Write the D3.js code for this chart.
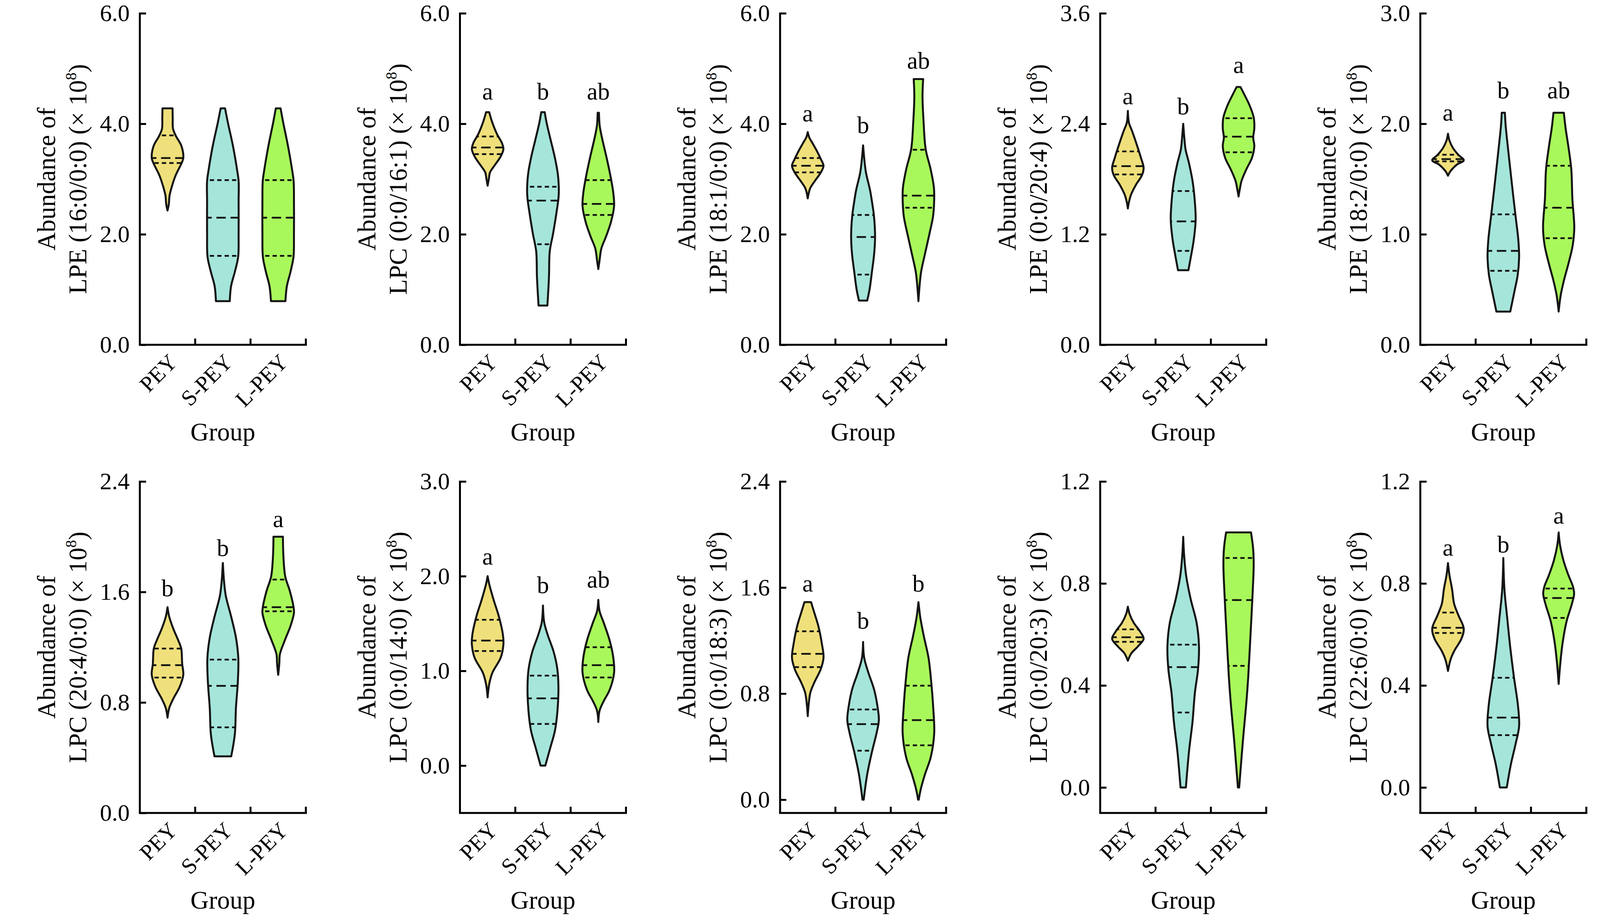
<!DOCTYPE html>
<html><head><meta charset="utf-8">
<script src="https://cdn.jsdelivr.net/npm/d3@7"></script>
<style>
body{margin:0;background:#fff}
svg{display:block}
text{font-family:"Liberation Serif","Times New Roman",serif;fill:#000}
</style>
</head><body>
<svg id="chart" width="4157" height="2351"></svg>
<script>
// ---------------- DATA ----------------
const groups = ["PEY", "S-PEY", "L-PEY"];
const groupColors = ["#EFE07B", "#A5E5DA", "#A9F85B"];

const lipidNames = [
  "LPE (16:0/0:0)", "LPC (0:0/16:1)", "LPE (18:1/0:0)", "LPE (0:0/20:4)", "LPE (18:2/0:0)",
  "LPC (20:4/0:0)", "LPC (0:0/14:0)", "LPC (0:0/18:3)", "LPC (0:0/20:3)", "LPC (22:6/0:0)"
];

const yDomains = [[0, 6], [0, 6], [0, 6], [0, 3.6], [0, 3],
                  [0, 2.4], [-0.5, 3], [-0.1, 2.4], [-0.1, 1.2], [-0.1, 1.2]];

const yTickValues = [
  [0, 2, 4, 6], [0, 2, 4, 6], [0, 2, 4, 6], [0, 1.2, 2.4, 3.6], [0, 1, 2, 3],
  [0, 0.8, 1.6, 2.4], [0, 1, 2, 3], [0, 0.8, 1.6, 2.4], [0, 0.4, 0.8, 1.2], [0, 0.4, 0.8, 1.2]
];

// [q1, median, q3] per group
const quartiles = [
  [[3.29, 3.38, 3.79], [1.61, 2.30, 2.98], [1.61, 2.30, 2.98]],
  [[3.45, 3.57, 3.77], [1.82, 2.61, 2.86], [2.35, 2.55, 2.98]],
  [[3.12, 3.24, 3.38], [1.27, 1.95, 2.35], [2.48, 2.70, 3.53]],
  [[1.85, 1.94, 2.10], [1.02, 1.34, 1.67], [2.09, 2.26, 2.46]],
  [[1.66, 1.68, 1.72], [0.67, 0.85, 1.18], [0.965, 1.24, 1.62]],
  [[0.98, 1.07, 1.19], [0.62, 0.92, 1.11], [1.46, 1.49, 1.69]],
  [[1.21, 1.32, 1.54], [0.44, 0.71, 0.95], [0.93, 1.06, 1.25]],
  [[1.00, 1.10, 1.27], [0.37, 0.57, 0.68], [0.41, 0.60, 0.86]],
  [[0.571, 0.589, 0.62], [0.294, 0.472, 0.56], [0.477, 0.735, 0.90]],
  [[0.606, 0.626, 0.686], [0.205, 0.274, 0.43], [0.665, 0.743, 0.78]]
];

const sigLetters = [
  ["", "", ""], ["a", "b", "ab"], ["a", "b", "ab"], ["a", "b", "a"], ["a", "b", "ab"],
  ["b", "b", "a"], ["a", "b", "ab"], ["a", "b", "b"], ["", "", ""], ["a", "b", "a"]
];
const sigLetterY = [
  [0, 0, 0], [4.44, 4.44, 4.44], [4.04, 3.83, 5.0], [2.61, 2.50, 2.95], [2.03, 2.23, 2.23],
  [1.57, 1.86, 2.07], [2.12, 1.82, 1.88], [1.57, 1.29, 1.57], [0, 0, 0], [0.909, 0.922, 1.034]
];

// violin profiles: [value, relative half-width]
const violin1 = [
  [[2.43,0],[2.54,.08],[2.7,.13],[2.85,.26],[3.07,.52],[3.28,.88],[3.38,1.0],[3.6,.88],[3.78,.53],[3.91,.35],[4.1,.33],[4.28,.32]],
  [[0.79,.44],[1.06,.52],[1.32,.76],[1.59,.97],[2.0,1.0],[2.6,1.0],[2.96,1.0],[3.17,.9],[3.6,.64],[4.02,.32],[4.28,.14]],
  [[0.79,.46],[1.06,.55],[1.32,.78],[1.59,.97],[2.0,1.0],[2.6,1.0],[2.96,.98],[3.17,.88],[3.6,.62],[4.02,.32],[4.28,.15]]
];
const violin2 = [
  [[2.88,0],[3.01,.08],[3.12,.15],[3.25,.45],[3.41,.83],[3.54,1.0],[3.65,.91],[3.81,.6],[4.02,.3],[4.21,.1]],
  [[0.71,.28],[1.22,.38],[1.69,.43],[2.01,.64],[2.38,.85],[2.72,1.0],[3.07,.95],[3.38,.76],[3.75,.45],[4.02,.23],[4.21,.11]],
  [[1.37,0],[1.53,.08],[1.74,.19],[1.96,.49],[2.22,.8],[2.51,1.0],[2.75,.95],[3.07,.76],[3.38,.53],[3.75,.23],[3.96,.09],[4.2,.04]]
];
const violin3 = [
  [[2.65,0],[2.83,.15],[2.96,.44],[3.12,.83],[3.24,1.0],[3.36,.83],[3.49,.61],[3.65,.3],[3.75,.1],[3.85,0]],
  [[0.8,.26],[1.0,.41],[1.32,.56],[1.64,.7],[1.96,.76],[2.33,.69],[2.54,.59],[2.8,.44],[3.12,.18],[3.38,.07],[3.61,0]],
  [[0.79,0],[1.06,.07],[1.32,.17],[1.64,.41],[2.01,.7],[2.33,.93],[2.64,1.0],[2.85,.98],[3.17,.78],[3.54,.46],[4.02,.33],[4.49,.26],[4.81,.3]]
];
const violin4 = [
  [[1.48,0],[1.55,.07],[1.63,.2],[1.74,.52],[1.84,.89],[1.92,1.0],[2.03,.83],[2.16,.59],[2.32,.27],[2.41,.07],[2.54,0]],
  [[0.81,.33],[0.95,.48],[1.14,.67],[1.36,.79],[1.59,.72],[1.78,.59],[1.97,.37],[2.12,.15],[2.25,.07],[2.4,0]],
  [[1.61,0],[1.68,.07],[1.78,.19],[1.9,.48],[2.03,.85],[2.16,1.0],[2.25,.93],[2.35,1.0],[2.47,.96],[2.6,.7],[2.73,.33],[2.8,.12]]
];
const violin5 = [
  [[1.53,0],[1.57,.15],[1.63,.56],[1.67,1.0],[1.72,.65],[1.78,.32],[1.85,.09],[1.91,0]],
  [[0.3,.44],[0.48,.7],[0.63,.91],[0.79,1.0],[0.95,.95],[1.16,.78],[1.37,.61],[1.59,.44],[1.8,.28],[1.98,.15],[2.1,.1]],
  [[0.3,0],[0.45,.13],[0.58,.33],[0.74,.63],[0.9,.89],[1.06,.99],[1.32,.87],[1.59,.8],[1.8,.61],[1.96,.44],[2.1,.33]]
];
const violin6 = [
  [[0.69,0],[0.76,.11],[0.83,.38],[0.91,.76],[1.0,1.0],[1.08,.93],[1.19,.87],[1.25,.68],[1.33,.38],[1.42,.11],[1.49,0]],
  [[0.41,.53],[0.57,.76],[0.76,.83],[0.95,.95],[1.12,.98],[1.27,.83],[1.42,.53],[1.57,.19],[1.67,.08],[1.81,0]],
  [[1.0,0],[1.08,.07],[1.15,.11],[1.25,.42],[1.36,.8],[1.45,1.0],[1.5,.96],[1.61,.73],[1.71,.45],[1.86,.33],[2.0,.3]]
];
const violin7 = [
  [[0.72,0],[0.86,.1],[0.98,.3],[1.14,.83],[1.28,1.0],[1.38,.97],[1.57,.72],[1.75,.38],[1.91,.11],[2.0,0]],
  [[0.0,.15],[0.18,.45],[0.37,.76],[0.58,.92],[0.83,.98],[1.02,.91],[1.2,.68],[1.38,.3],[1.51,.08],[1.69,0]],
  [[0.46,0],[0.58,.08],[0.68,.34],[0.8,.72],[0.98,1.0],[1.14,.95],[1.32,.72],[1.51,.34],[1.63,.08],[1.75,0]]
];
const violin8 = [
  [[0.63,0],[0.72,.06],[0.81,.17],[0.89,.44],[0.98,.81],[1.07,1.0],[1.18,.89],[1.31,.67],[1.42,.39],[1.49,.21]],
  [[0.0,.04],[0.19,.26],[0.36,.56],[0.5,.85],[0.6,1.0],[0.69,.93],[0.83,.7],[0.96,.33],[1.07,.07],[1.19,0]],
  [[0.0,.02],[0.08,.15],[0.19,.41],[0.32,.78],[0.5,1.0],[0.69,.94],[0.89,.81],[1.07,.64],[1.24,.33],[1.38,.11],[1.49,0]]
];
const violin9 = [
  [[0.497,0],[0.526,.22],[0.554,.65],[0.583,1.0],[0.611,.78],[0.646,.37],[0.68,.11],[0.709,0]],
  [[0.0,.17],[0.143,.37],[0.257,.59],[0.371,.74],[0.463,.94],[0.554,1.0],[0.646,.85],[0.737,.48],[0.829,.19],[0.909,.06],[0.983,0]],
  [[0.0,.04],[0.086,.15],[0.2,.3],[0.314,.47],[0.429,.61],[0.6,.76],[0.771,.9],[0.874,.96],[0.94,.92],[1.0,.79]]
];
const violin10 = [
  [[0.457,0],[0.503,.17],[0.537,.41],[0.583,.85],[0.623,1.0],[0.674,.67],[0.72,.39],[0.777,.26],[0.834,.09],[0.88,0]],
  [[0.0,.22],[0.091,.48],[0.171,.78],[0.24,1.0],[0.32,.93],[0.434,.67],[0.549,.44],[0.663,.25],[0.777,.07],[0.9,0]],
  [[0.406,0],[0.491,.11],[0.571,.26],[0.651,.5],[0.72,.84],[0.76,.98],[0.789,.9],[0.834,.61],[0.891,.3],[0.949,.09],[1.0,0]]
];
const violinProfiles = [violin1, violin2, violin3, violin4, violin5, violin6, violin7, violin8, violin9, violin10];

// ---------------- LAYOUT ----------------
const svg = d3.select("#chart");
svg.append("rect").attr("width", 4157).attr("height", 2351).attr("fill", "#fff");

const colLeft = 358, colStep = 819.5;
const rowTop = [34, 1233];
const plotW = 425, plotH = 849;
const tickFont = 61, titleFont = 65, letterFont = 62, xLabFont = 57;

violinProfiles.forEach((prof, i) => {
  const row = Math.floor(i / 5), col = i % 5;
  const left = colLeft + col * colStep;
  const top = rowTop[row];
  const g = svg.append("g").attr("transform", `translate(${left},${top})`);

  const x = d3.scaleBand().domain(groups).range([0, plotW]);
  const y = d3.scaleLinear().domain(yDomains[i]).range([plotH, 0]);
  const w = d3.scaleLinear().domain([0, 1]).range([0, x.bandwidth() * 0.285]);

  // violins
  groups.forEach((grp, j) => {
    const cx = x(grp) + x.bandwidth() / 2;
    const pts = prof[j].slice().sort((a, b) => a[0] - b[0]);
    const area = d3.area()
      .curve(d3.curveCatmullRom.alpha(0.5))
      .y(d => y(d[0]))
      .x0(d => cx - w(d[1]))
      .x1(d => cx + w(d[1]));
    const dPath = area(pts);
    const clipId = `clip-${i}-${j}`;
    g.append("clipPath").attr("id", clipId).append("path").attr("d", dPath);
    g.append("path").attr("d", dPath)
      .attr("fill", groupColors[j])
      .attr("stroke", "#141414").attr("stroke-width", 5)
      .attr("stroke-linejoin", "round");
    const q = quartiles[i][j];
    const lg = g.append("g").attr("clip-path", `url(#${clipId})`);
    q.forEach((v, k) => {
      lg.append("line")
        .attr("x1", cx - w(1.3)).attr("x2", cx + w(1.3))
        .attr("y1", y(v)).attr("y2", y(v))
        .attr("stroke", "#111").attr("stroke-width", 4.5)
        .attr("stroke-dasharray", k === 1 ? "24,12" : "11,8");
    });
    // significance letter
    if (sigLetters[i][j]) {
      g.append("text").attr("x", cx).attr("y", y(sigLetterY[i][j]))
        .attr("text-anchor", "middle").attr("font-size", letterFont)
        .text(sigLetters[i][j]);
    }
  });

  // y axis
  const yAxis = d3.axisLeft(y)
    .tickValues(yTickValues[i])
    .tickFormat(d3.format(".1f"))
    .tickSizeInner(-16).tickSizeOuter(0).tickPadding(26);
  const ya = g.append("g").call(yAxis);
  ya.select(".domain").attr("stroke", "#000").attr("stroke-width", 5)
    .attr("d", `M0,${y.range()[1] - 2}V${plotH}`);
  ya.selectAll(".tick line").attr("stroke", "#000").attr("stroke-width", 5);
  ya.selectAll(".tick text").attr("font-size", tickFont)
    .attr("font-family", "Liberation Serif, Times New Roman, serif").attr("fill", "#000");

  // x axis
  g.append("line").attr("x1", -2.5).attr("x2", plotW + 2.5)
    .attr("y1", plotH).attr("y2", plotH)
    .attr("stroke", "#000").attr("stroke-width", 5);
  groups.forEach(grp => {
    const xe = x(grp) + x.bandwidth();
    g.append("line").attr("x1", xe).attr("x2", xe)
      .attr("y1", plotH).attr("y2", plotH - 16)
      .attr("stroke", "#000").attr("stroke-width", 5);
    const cx = x(grp) + x.bandwidth() / 2;
    g.append("text")
      .attr("transform", `translate(${cx + 28},${plotH + 48}) rotate(-45)`)
      .attr("text-anchor", "end").attr("font-size", xLabFont)
      .text(grp);
  });
  g.append("text").attr("x", plotW / 2).attr("y", plotH + 245)
    .attr("text-anchor", "middle").attr("font-size", titleFont).text("Group");

  // y title
  g.append("text")
    .attr("transform", `translate(-217,${plotH / 2}) rotate(-90)`)
    .attr("text-anchor", "middle").attr("font-size", titleFont)
    .text("Abundance of");
  const t2 = g.append("text")
    .attr("transform", `translate(-137,${plotH / 2}) rotate(-90)`)
    .attr("text-anchor", "middle").attr("font-size", titleFont);
  t2.append("tspan").text(lipidNames[i] + " (\u00D7 10");
  t2.append("tspan").attr("font-size", titleFont * 0.6).attr("dy", -titleFont * 0.4).text("8");
  t2.append("tspan").attr("dy", titleFont * 0.4).text(")");
});
</script>
</body></html>
